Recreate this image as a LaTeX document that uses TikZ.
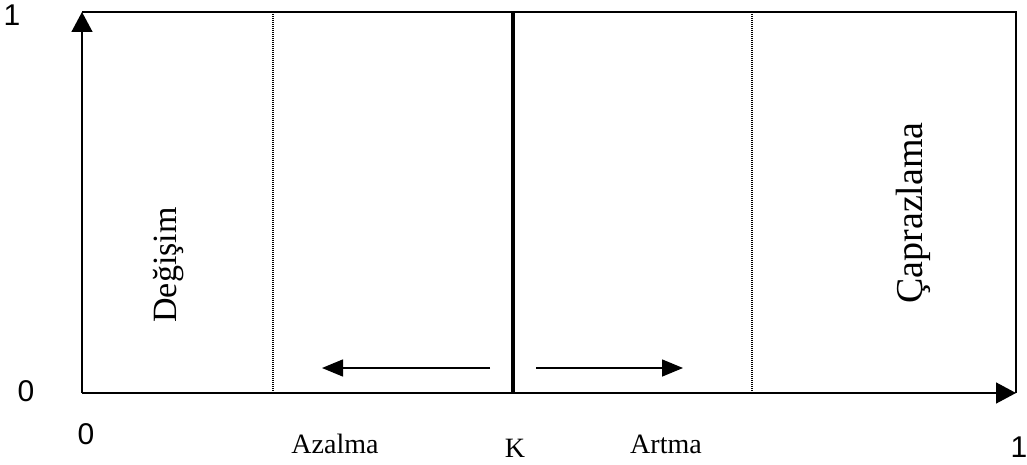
\documentclass[tikz,border=0pt]{standalone}
\usepackage{fontspec}
\setmainfont{Liberation Serif}
\newfontfamily\sansf{Liberation Sans}
\usetikzlibrary{arrows.meta}
\begin{document}
\begin{tikzpicture}[x=1pt,y=-1pt,
  axis/.style={line width=1.5pt,-{Triangle[length=20pt,width=21pt]}},
  frame/.style={line width=1.5pt},
  dotline/.style={line width=1.2pt,dash pattern=on 1pt off 1pt},
  thick line/.style={line width=3.2pt},
  small arrow/.style={line width=1.5pt,-{Triangle[length=21pt,width=17pt]}},
  digit/.style={font=\sansf\fontsize{30}{30}\selectfont,inner sep=0pt},
  lab/.style={font=\fontsize{28}{28}\selectfont,inner sep=0pt,anchor=base},
  vlab/.style={font=\fontsize{34}{34}\selectfont,rotate=90,inner sep=0pt}]
\useasboundingbox (0,0) rectangle (1027,465);
\coordinate (O) at (82,393);
\coordinate (Ytop) at (82,12);
\coordinate (Xend) at (1016,393);
\coordinate (TR) at (1016,12);
\coordinate (d1t) at (273,12);
\coordinate (d1b) at (273,393);
\coordinate (d2t) at (752,12);
\coordinate (d2b) at (752,393);
\coordinate (Kt) at (513,12);
\coordinate (Kb) at (513,393);
\coordinate (la1) at (490,368);
\coordinate (la2) at (322,368);
\coordinate (ra1) at (536,368);
\coordinate (ra2) at (683,368);
% frame
\draw[frame] (Ytop) -- (TR) -- (Xend);
\draw[dotline] (d1t) -- (d1b);
\draw[dotline] (d2t) -- (d2b);
\draw[thick line] (Kt) -- (Kb);
\draw[axis] (O) -- (Ytop);
\draw[axis] (O) -- (Xend);
\draw[small arrow] (la1) -- (la2);
\draw[small arrow] (ra1) -- (ra2);
% labels
\node[digit] (y1) at (12,15) {1};
\node[digit] (y0) at (26,391) {0};
\node[digit] (x0) at (86,434) {0};
\node[digit] (x1) at (1019,447) {1};
\node[lab] (az) at (335,453) {Azalma};
\node[lab] (k) at (515,457) {K};
\node[lab] (ar) at (666,453) {Artma};
\node[vlab] (deg) at (169,265) {Değişim};
\node[font=\fontsize{38}{38}\selectfont,rotate=90,inner sep=0pt] (cap) at (913,213) {Çaprazlama};
\end{tikzpicture}
\end{document}
